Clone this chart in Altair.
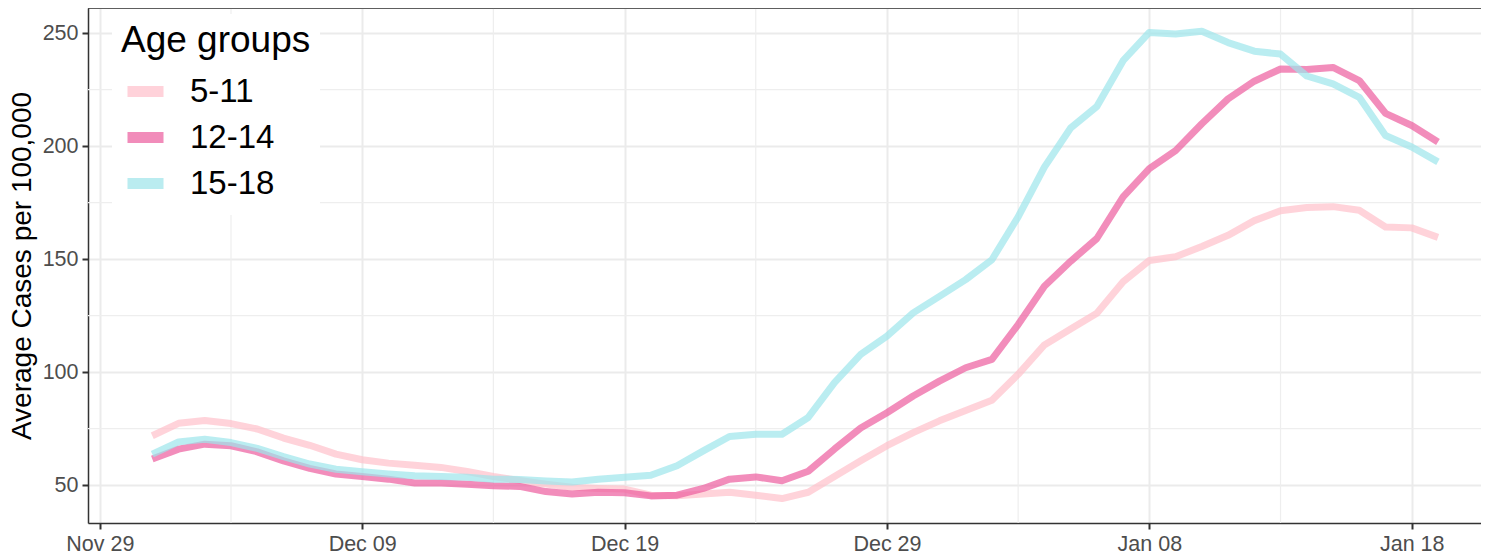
import altair as alt
import pandas as pd

# ---- data ----
start_day = "2021-12-01"
n_days = 50
groups = ["5-11", "12-14", "15-18"]
colors = ["#FFC0CB", "#EC5C9E", "#9DE5EB"]

age_5_11 = [71.8, 77.3, 78.6, 77.2, 74.8, 70.8, 67.6, 63.7, 61.2, 59.7,
            58.8, 57.8, 56.0, 53.8, 52.0, 50.4, 49.0, 48.5, 48.2, 45.5,
            45.3, 46.0, 46.8, 45.5, 44.0, 46.8, 53.8, 60.7, 67.4, 73.2,
            78.4, 83.0, 87.5, 99.0, 112.0, 119.0, 126.0, 140.0, 149.4, 151.0,
            155.6, 160.5, 167.0, 171.4, 172.8, 173.2, 171.6, 164.2, 163.8, 159.6]
age_12_14 = [61.5, 65.9, 68.1, 67.4, 64.7, 60.7, 57.4, 54.9, 53.8, 52.6,
             50.9, 50.9, 50.4, 49.7, 49.4, 47.1, 46.0, 46.8, 46.6, 45.2,
             45.5, 48.5, 52.6, 53.6, 51.9, 56.1, 65.9, 75.2, 82.0, 89.4,
             96.0, 101.9, 105.6, 121.0, 138.0, 149.0, 159.1, 177.5, 190.0, 198.0,
             209.9, 220.9, 228.7, 234.1, 233.9, 234.8, 229.0, 214.5, 209.1, 201.8]
age_15_18 = [63.7, 69.1, 70.3, 68.8, 66.2, 62.6, 59.3, 57.0, 55.9, 54.9,
             54.1, 53.8, 53.4, 52.6, 52.5, 51.8, 51.3, 52.6, 53.4, 54.3,
             58.5, 65.1, 71.5, 72.5, 72.5, 79.9, 95.3, 107.8, 115.9, 126.2,
             133.5, 140.9, 149.7, 168.7, 190.7, 208.0, 217.5, 237.8, 250.3, 249.6,
             250.8, 245.8, 242.0, 240.7, 231.0, 227.5, 221.6, 204.7, 199.6, 193.0]

major_x = ["2021-11-29", "2021-12-09", "2021-12-19", "2021-12-29", "2022-01-08", "2022-01-18"]
minor_x = ["2021-12-04", "2021-12-14", "2021-12-24", "2022-01-03", "2022-01-13"]
major_y = [50, 100, 150, 200, 250]
minor_y = [75, 125, 175, 225]

# ---- build table ----
dates = pd.date_range(start_day, periods=n_days, freq="D")
series = {"5-11": age_5_11, "12-14": age_12_14, "15-18": age_15_18}
rows = []
for g in groups:
    for d, v in zip(dates, series[g]):
        rows.append({"date": d.strftime("%Y-%m-%dT00:00:00"), "group": g, "value": v})
df = pd.DataFrame(rows)

def dt(s):
    y, m, d = (int(p) for p in s.split("-"))
    return alt.DateTime(year=y, month=m, date=d)

FONT = "Liberation Sans"
xscale = alt.Scale(domain=[alt.DateTime(year=2021, month=11, date=28, hours=13, minutes=12),
                           alt.DateTime(year=2022, month=1, date=20, hours=15, minutes=22)])
yscale = alt.Scale(domain=[33.2, 261.1], nice=False, zero=False)

minor_x_df = pd.DataFrame({"date": [s + "T00:00:00" for s in minor_x]})
minor_y_df = pd.DataFrame({"value": minor_y})

vgrid = alt.Chart(minor_x_df).mark_rule(color="#EEEEEE", strokeWidth=1.2).encode(
    x=alt.X("date:T", scale=xscale)
)
hgrid = alt.Chart(minor_y_df).mark_rule(color="#EEEEEE", strokeWidth=1.2).encode(
    y=alt.Y("value:Q", scale=yscale)
)

lines = alt.Chart(df).mark_line(strokeWidth=7, opacity=0.7, strokeJoin="round", strokeCap="butt").encode(
    x=alt.X("date:T", scale=xscale,
            axis=alt.Axis(values=[dt(s) for s in major_x], format="%b %d", title=None,
                          grid=True, gridColor="#EBEBEB", gridWidth=2,
                          tickColor="#333333", tickSize=6, tickWidth=2,
                          domainColor="#333333", domainWidth=1.5,
                          labelFont=FONT, labelFontSize=21.5, labelColor="#4D4D4D",
                          labelPadding=4)),
    y=alt.Y("value:Q", scale=yscale,
            axis=alt.Axis(values=major_y, format="d", title="Average Cases per 100,000",
                          grid=True, gridColor="#EBEBEB", gridWidth=2,
                          tickColor="#333333", tickSize=6, tickWidth=2,
                          domainColor="#333333", domainWidth=1.5,
                          labelFont=FONT, labelFontSize=21.5, labelColor="#4D4D4D",
                          labelPadding=4,
                          titleFont=FONT, titleFontSize=28, titleFontWeight="normal",
                          titleColor="black", titlePadding=6)),
    color=alt.Color("group:N", sort=groups,
                    scale=alt.Scale(domain=groups, range=colors),
                    legend=alt.Legend(title="Age groups", orient="none", legendX=24, legendY=6,
                                      fillColor="white", padding=9,
                                      titleFont=FONT, titleFontSize=37, titleFontWeight="normal",
                                      titleColor="black", titlePadding=8, titleLimit=400,
                                      labelFont=FONT, labelFontSize=33, labelColor="black",
                                      labelOffset=21, symbolType="stroke", symbolStrokeWidth=11,
                                      symbolSize=1296, symbolOpacity=0.7, symbolOffset=1,
                                      rowPadding=0)),
    detail="group:N",
)

top_border = alt.Chart(pd.DataFrame({"k": [0]})).mark_rule(color="#333333", strokeWidth=1.5).encode(
    y=alt.value(0)
)

chart = alt.layer(vgrid, hgrid, lines, top_border).properties(
    width=1393, height=515,
    autosize=alt.AutoSizeParams(type="none"),
    padding={"left": 80, "top": 0, "right": 0, "bottom": 34},
).configure_view(stroke=None).configure(background="white")

chart.save("out.html", embed_options={"renderer": "svg", "actions": False})
